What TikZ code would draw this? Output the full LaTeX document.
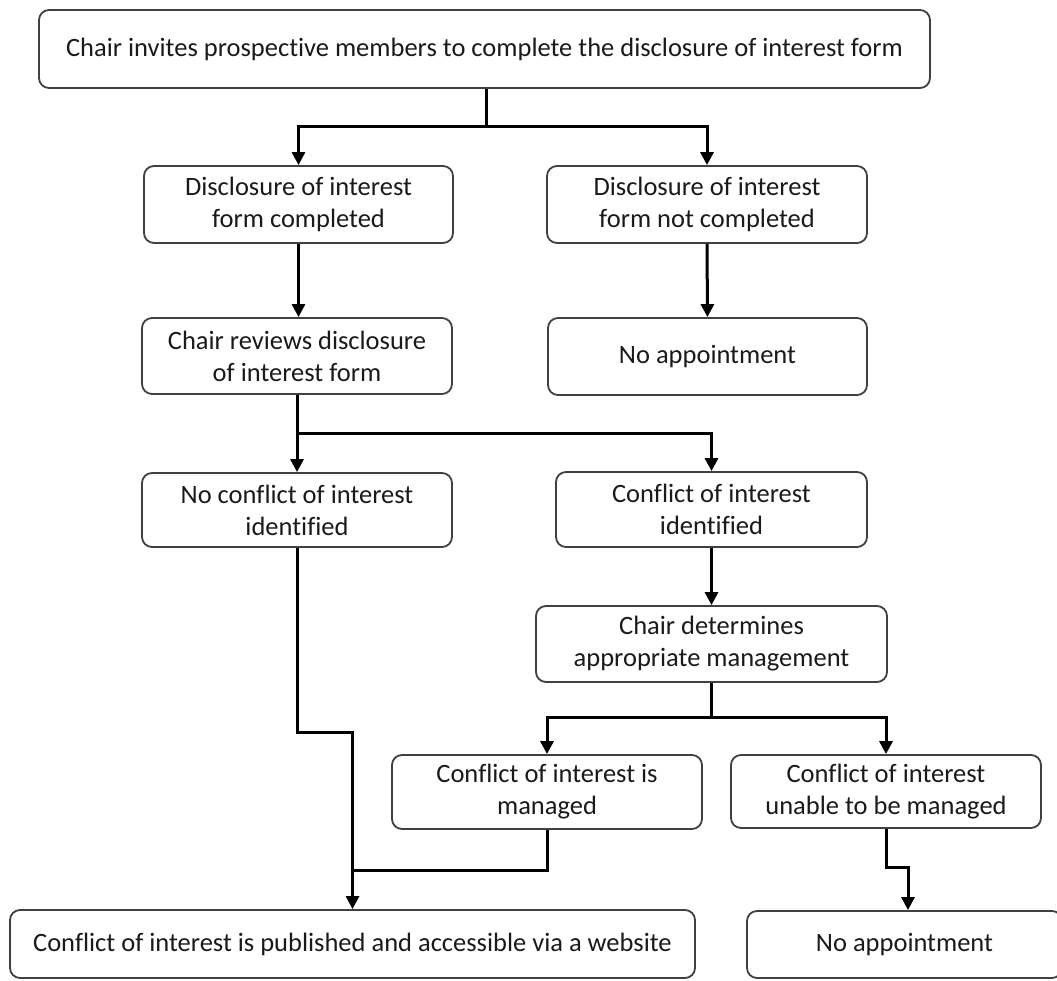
\documentclass[tikz,border=0pt]{standalone}
\usepackage{fontspec}
\setmainfont[Ligatures=NoCommon]{Carlito}
\usetikzlibrary{arrows.meta}
\definecolor{boxline}{HTML}{404040}
\definecolor{txt}{HTML}{1A1A1A}
\tikzset{
  box/.style={draw=boxline, line width=1.8pt, rounded corners=10pt, fill=white,
    inner sep=0pt, align=center, text=txt,
    font=\fontsize{26.5pt}{32pt}\selectfont},
  conn/.style={line width=3pt, black},
  arr/.style={conn, -{Triangle[length=13pt,width=13pt]}},
}
\begin{document}
\begin{tikzpicture}[x=1pt,y=-1pt]
\useasboundingbox (0,0) rectangle (1057,981);
\node[box, minimum width=891pt, minimum height=78pt] (top) at (484.5,49) {Chair invites prospective members to complete the disclosure of interest form};
\node[box, minimum width=309pt, minimum height=77pt] (A) at (298.5,204.5) {Disclosure of interest\\form completed};
\node[box, minimum width=320pt, minimum height=77pt] (B) at (707,204.5) {Disclosure of interest\\form not completed};
\node[box, minimum width=310pt, minimum height=76pt] (C) at (297,356) {Chair reviews disclosure\\of interest form};
\node[box, minimum width=319pt, minimum height=77pt] (D) at (707.5,356.5) {No appointment};
\node[box, minimum width=310pt, minimum height=74pt] (E) at (297,510) {No conflict of interest\\identified};
\node[box, minimum width=311pt, minimum height=75pt] (F) at (711.5,509.5) {Conflict of interest\\identified};
\node[box, minimum width=351pt, minimum height=76pt] (G) at (711.5,644) {Chair determines\\appropriate management};
\node[box, minimum width=310pt, minimum height=74pt] (H) at (547,792) {Conflict of interest is\\managed};
\node[box, minimum width=310pt, minimum height=73pt] (I) at (886,791.5) {Conflict of interest\\unable to be managed};
\node[box, minimum width=685pt, minimum height=68pt] (J) at (352.5,944) {Conflict of interest is published and accessible via a website};
\node[box, minimum width=315pt, minimum height=67pt] (K) at (904.5,944.5) {No appointment};
\coordinate (j1) at (486,127);
\coordinate (j2) at (297,433);
\coordinate (j3) at (711.5,717);
\coordinate (j4) at (352.5,732);
\coordinate (j5) at (352.5,870);
\coordinate (j6) at (908,867);
\draw[conn] (top.south -| j1) -- (j1);
\draw[arr] (j1) -| (A.north);
\draw[arr] (j1) -| (B.north);
\draw[arr] (A.south) -- (A.south |- C.north);
\draw[arr] (B.south) -- (D.north);
\draw[conn] (C.south) -- (j2);
\draw[arr] (j2) -| (E.north);
\draw[arr] (j2) -| (F.north);
\draw[arr] (F.south) -- (G.north);
\draw[conn] (G.south) -- (j3);
\draw[arr] (j3) -| (H.north);
\draw[arr] (j3) -| (I.north);
\draw[arr] (E.south) |- (j4) -- (J.north);
\draw[conn] (H.south) |- (j5);
\draw[arr] (I.south) |- (j6) -- (j6 |- K.north);
\end{tikzpicture}
\end{document}
